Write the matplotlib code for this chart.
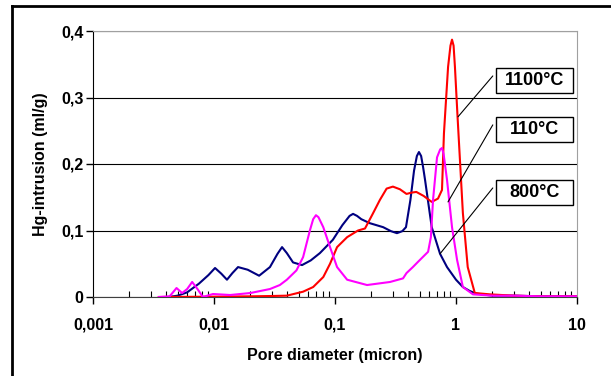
import matplotlib.pyplot as plt
from matplotlib.lines import Line2D
from matplotlib.patches import Rectangle
from matplotlib.ticker import LogLocator

plt.rcParams['font.family'] = ['Liberation Sans', 'DejaVu Sans']
plt.rcParams['font.weight'] = 'bold'

# 800°C (navy)
x800 = [0.0042, 0.0050, 0.0060, 0.0075, 0.0090, 0.0102, 0.0115, 0.0128, 0.0142, 0.0158,
        0.019, 0.0236, 0.029, 0.0335, 0.0365, 0.040, 0.045, 0.0534, 0.063, 0.075,
        0.096, 0.115, 0.132, 0.141, 0.152, 0.165, 0.194, 0.25, 0.29, 0.325, 0.36, 0.386,
        0.42, 0.45, 0.475, 0.494, 0.515, 0.535, 0.555, 0.63, 0.738, 0.843, 1.0, 1.14,
        1.3, 1.48, 2.0, 3.0, 5.0, 10]
y800 = [0, 0.002, 0.007, 0.02, 0.033, 0.0436, 0.035, 0.026, 0.036, 0.045,
        0.041, 0.032, 0.045, 0.065, 0.075, 0.066, 0.052, 0.048, 0.055, 0.066,
        0.086, 0.108, 0.122, 0.125, 0.122, 0.117, 0.111, 0.105, 0.099, 0.096, 0.099, 0.105,
        0.146, 0.19, 0.212, 0.218, 0.212, 0.195, 0.176, 0.105, 0.065, 0.045, 0.026, 0.015,
        0.009, 0.005, 0.002, 0.002, 0.001, 0.001]

# 110°C (magenta)
x110 = [0.0035, 0.0043, 0.0049, 0.00545, 0.0060, 0.0066, 0.0073, 0.0081, 0.0098, 0.0136,
        0.020, 0.029, 0.035, 0.040, 0.048, 0.0545, 0.062, 0.066, 0.0696, 0.073, 0.080,
        0.091, 0.104, 0.126, 0.184, 0.285, 0.365, 0.39, 0.44, 0.486, 0.588,
        0.62, 0.646, 0.697, 0.74, 0.766, 0.79, 0.843, 0.927, 1.02, 1.14, 1.38,
        2.0, 3.0, 5.0, 10]
y110 = [0, 0.001, 0.0135, 0.006, 0.012, 0.0226, 0.012, 0, 0.0045, 0.003,
        0.006, 0.012, 0.018, 0.026, 0.040, 0.06, 0.1, 0.117, 0.123, 0.12, 0.105,
        0.075, 0.045, 0.026, 0.018, 0.0226, 0.028, 0.036, 0.045, 0.053, 0.068,
        0.09, 0.146, 0.21, 0.222, 0.224, 0.215, 0.176, 0.105, 0.056, 0.015, 0.004,
        0.002, 0.002, 0.001, 0.001]

# 1100°C (red)
x1100 = [0.0035, 0.01, 0.02, 0.03, 0.04, 0.0545, 0.066, 0.08, 0.091, 0.104,
         0.126, 0.155, 0.177, 0.205, 0.235, 0.267, 0.301, 0.344, 0.39, 0.43,
         0.47, 0.54, 0.63, 0.71, 0.766, 0.795, 0.86, 0.90, 0.927, 0.955, 0.98, 1.03,
         1.14, 1.25, 1.43, 1.9, 3.0, 5.0, 10]
y1100 = [0, 0.0005, 0.001, 0.0015, 0.002, 0.008, 0.015, 0.03, 0.05, 0.075,
         0.09, 0.1, 0.103, 0.125, 0.146, 0.163, 0.166, 0.162, 0.155, 0.157,
         0.158, 0.152, 0.143, 0.148, 0.161, 0.246, 0.346, 0.378, 0.387, 0.378, 0.346, 0.271,
         0.126, 0.045, 0.006, 0.004, 0.002, 0.001, 0.001]

labels = ['1100°C', '110°C', '800°C']
label_targets = [(1.039, 0.271), (0.859, 0.143), (0.738, 0.065)]

fig = plt.figure(figsize=(6.11, 3.76), dpi=100)
ax = fig.add_axes([93 / 611, 1 - 297 / 376, 484 / 611, 266 / 376])

ax.plot(x800, y800, color='#000080', lw=1.5, zorder=3)
ax.plot(x1100, y1100, color='#ff0000', lw=1.5, zorder=3)
ax.plot(x110, y110, color='#ff00ff', lw=1.5, zorder=4)

ax.set_xscale('log')
ax.set_xlim(0.001, 10)
ax.set_ylim(0, 0.4)
ax.set_xticks([0.001, 0.01, 0.1, 1, 10])
ax.set_xticklabels(['0,001', '0,01', '0,1', '1', '10'])
ax.xaxis.set_minor_locator(LogLocator(base=10, subs=range(2, 10), numticks=20))
ax.set_yticks([0, 0.1, 0.2, 0.3, 0.4])
ax.set_yticklabels(['0', '0,1', '0,2', '0,3', '0,4'])
ax.yaxis.grid(True, color='black', lw=0.8)
ax.set_axisbelow(True)

ax.tick_params(axis='x', which='major', direction='out', length=5, width=1, pad=10, labelsize=11.5)
ax.tick_params(axis='x', which='minor', direction='in', length=4, width=0.8)
ax.tick_params(axis='y', which='major', direction='out', length=5, width=1, pad=2, labelsize=11.5)

ax.spines['left'].set_color('black')
ax.spines['bottom'].set_color('#404040')
ax.spines['top'].set_color('#a0a0a0')
ax.spines['right'].set_color('#a0a0a0')

ax.set_xlabel('Pore diameter (micron)', fontsize=11.5, fontweight='bold', labelpad=11)
ax.set_ylabel('Hg-intrusion (ml/g)', fontsize=11.5, fontweight='bold', labelpad=9)

# label boxes with leader lines
box_tops = [0.861, 0.677, 0.44]
for lab, top, tgt in zip(labels, box_tops, label_targets):
    h = 0.094
    ax.add_patch(Rectangle((0.8326, top - h), 0.159, h, transform=ax.transAxes,
                           facecolor='white', edgecolor='black', lw=1, zorder=6, clip_on=False))
    ax.text(0.8326 + 0.0795, top - h / 2, lab, transform=ax.transAxes, ha='center', va='center',
            fontsize=13, fontweight='bold', zorder=7)
    ax.annotate('', xy=tgt, xycoords='data', xytext=(0.826, top - 0.03), textcoords='axes fraction',
                arrowprops=dict(arrowstyle='-', color='black', lw=0.8, shrinkA=0, shrinkB=0), zorder=5)

# outer chart frame
fig.add_artist(Line2D([12 / 611, 12 / 611], [0, 1 - 6 / 376], color='black', lw=2))
fig.add_artist(Line2D([12 / 611, 1], [1 - 6 / 376, 1 - 6 / 376], color='black', lw=2))

fig.savefig('out.png', dpi=100)
